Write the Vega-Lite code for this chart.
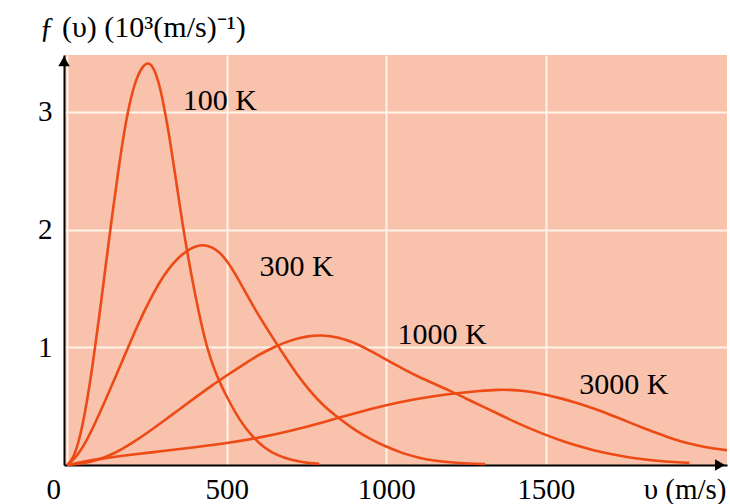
{
  "$schema": "https://vega.github.io/schema/vega-lite/v6.json",
  "width": 663,
  "height": 410,
  "autosize": {"type": "none"},
  "padding": {"left": 64, "top": 55, "right": 3, "bottom": 39},
  "background": "white",
  "config": {
    "view": {"fill": "#F8C2AC", "stroke": null},
    "font": "Liberation Serif"
  },
  "datasets": {
    "curves": [
      {"T": "100 K", "v": 0, "f": 0}, {"T": "100 K", "v": 20, "f": 0.058}, {"T": "100 K", "v": 40, "f": 0.23}, {"T": "100 K", "v": 60, "f": 0.5}, {"T": "100 K", "v": 80, "f": 0.85}, {"T": "100 K", "v": 100, "f": 1.25}, {"T": "100 K", "v": 120, "f": 1.68}, {"T": "100 K", "v": 140, "f": 2.1}, {"T": "100 K", "v": 160, "f": 2.5}, {"T": "100 K", "v": 180, "f": 2.86}, {"T": "100 K", "v": 200, "f": 3.13}, {"T": "100 K", "v": 220, "f": 3.31}, {"T": "100 K", "v": 240, "f": 3.4}, {"T": "100 K", "v": 255, "f": 3.42}, {"T": "100 K", "v": 270, "f": 3.38}, {"T": "100 K", "v": 285, "f": 3.27}, {"T": "100 K", "v": 300, "f": 3.1}, {"T": "100 K", "v": 320, "f": 2.8}, {"T": "100 K", "v": 340, "f": 2.44}, {"T": "100 K", "v": 360, "f": 2.07}, {"T": "100 K", "v": 380, "f": 1.75}, {"T": "100 K", "v": 400, "f": 1.46}, {"T": "100 K", "v": 420, "f": 1.2}, {"T": "100 K", "v": 440, "f": 0.98}, {"T": "100 K", "v": 460, "f": 0.82}, {"T": "100 K", "v": 480, "f": 0.69}, {"T": "100 K", "v": 500, "f": 0.58}, {"T": "100 K", "v": 540, "f": 0.38}, {"T": "100 K", "v": 580, "f": 0.24}, {"T": "100 K", "v": 620, "f": 0.14}, {"T": "100 K", "v": 660, "f": 0.08}, {"T": "100 K", "v": 700, "f": 0.045}, {"T": "100 K", "v": 740, "f": 0.022}, {"T": "100 K", "v": 790, "f": 0.01},
      {"T": "300 K", "v": 0, "f": 0}, {"T": "300 K", "v": 30, "f": 0.07}, {"T": "300 K", "v": 60, "f": 0.2}, {"T": "300 K", "v": 90, "f": 0.37}, {"T": "300 K", "v": 120, "f": 0.55}, {"T": "300 K", "v": 150, "f": 0.74}, {"T": "300 K", "v": 180, "f": 0.93}, {"T": "300 K", "v": 210, "f": 1.12}, {"T": "300 K", "v": 240, "f": 1.3}, {"T": "300 K", "v": 270, "f": 1.46}, {"T": "300 K", "v": 300, "f": 1.6}, {"T": "300 K", "v": 330, "f": 1.71}, {"T": "300 K", "v": 360, "f": 1.79}, {"T": "300 K", "v": 390, "f": 1.845}, {"T": "300 K", "v": 416, "f": 1.87}, {"T": "300 K", "v": 440, "f": 1.865}, {"T": "300 K", "v": 470, "f": 1.83}, {"T": "300 K", "v": 500, "f": 1.74}, {"T": "300 K", "v": 530, "f": 1.61}, {"T": "300 K", "v": 560, "f": 1.46}, {"T": "300 K", "v": 600, "f": 1.27}, {"T": "300 K", "v": 640, "f": 1.1}, {"T": "300 K", "v": 680, "f": 0.93}, {"T": "300 K", "v": 720, "f": 0.77}, {"T": "300 K", "v": 760, "f": 0.63}, {"T": "300 K", "v": 800, "f": 0.51}, {"T": "300 K", "v": 850, "f": 0.4}, {"T": "300 K", "v": 900, "f": 0.3}, {"T": "300 K", "v": 950, "f": 0.22}, {"T": "300 K", "v": 1000, "f": 0.155}, {"T": "300 K", "v": 1050, "f": 0.1}, {"T": "300 K", "v": 1100, "f": 0.062}, {"T": "300 K", "v": 1150, "f": 0.037}, {"T": "300 K", "v": 1200, "f": 0.022}, {"T": "300 K", "v": 1260, "f": 0.012}, {"T": "300 K", "v": 1310, "f": 0.008},
      {"T": "1000 K", "v": 0, "f": 0}, {"T": "1000 K", "v": 50, "f": 0.012}, {"T": "1000 K", "v": 100, "f": 0.045}, {"T": "1000 K", "v": 150, "f": 0.1}, {"T": "1000 K", "v": 200, "f": 0.18}, {"T": "1000 K", "v": 250, "f": 0.27}, {"T": "1000 K", "v": 300, "f": 0.37}, {"T": "1000 K", "v": 350, "f": 0.47}, {"T": "1000 K", "v": 400, "f": 0.57}, {"T": "1000 K", "v": 450, "f": 0.67}, {"T": "1000 K", "v": 500, "f": 0.76}, {"T": "1000 K", "v": 550, "f": 0.85}, {"T": "1000 K", "v": 600, "f": 0.935}, {"T": "1000 K", "v": 650, "f": 1.005}, {"T": "1000 K", "v": 700, "f": 1.06}, {"T": "1000 K", "v": 750, "f": 1.095}, {"T": "1000 K", "v": 800, "f": 1.105}, {"T": "1000 K", "v": 850, "f": 1.085}, {"T": "1000 K", "v": 900, "f": 1.04}, {"T": "1000 K", "v": 950, "f": 0.97}, {"T": "1000 K", "v": 1000, "f": 0.895}, {"T": "1000 K", "v": 1050, "f": 0.82}, {"T": "1000 K", "v": 1100, "f": 0.75}, {"T": "1000 K", "v": 1150, "f": 0.69}, {"T": "1000 K", "v": 1200, "f": 0.63}, {"T": "1000 K", "v": 1250, "f": 0.565}, {"T": "1000 K", "v": 1300, "f": 0.5}, {"T": "1000 K", "v": 1350, "f": 0.435}, {"T": "1000 K", "v": 1400, "f": 0.37}, {"T": "1000 K", "v": 1450, "f": 0.31}, {"T": "1000 K", "v": 1500, "f": 0.255}, {"T": "1000 K", "v": 1550, "f": 0.205}, {"T": "1000 K", "v": 1600, "f": 0.162}, {"T": "1000 K", "v": 1650, "f": 0.125}, {"T": "1000 K", "v": 1700, "f": 0.095}, {"T": "1000 K", "v": 1750, "f": 0.07}, {"T": "1000 K", "v": 1800, "f": 0.05}, {"T": "1000 K", "v": 1850, "f": 0.035}, {"T": "1000 K", "v": 1900, "f": 0.025}, {"T": "1000 K", "v": 1950, "f": 0.018},
      {"T": "3000 K", "v": 0, "f": 0}, {"T": "3000 K", "v": 50, "f": 0.028}, {"T": "3000 K", "v": 100, "f": 0.052}, {"T": "3000 K", "v": 200, "f": 0.088}, {"T": "3000 K", "v": 300, "f": 0.118}, {"T": "3000 K", "v": 400, "f": 0.15}, {"T": "3000 K", "v": 500, "f": 0.185}, {"T": "3000 K", "v": 600, "f": 0.23}, {"T": "3000 K", "v": 700, "f": 0.29}, {"T": "3000 K", "v": 800, "f": 0.36}, {"T": "3000 K", "v": 900, "f": 0.44}, {"T": "3000 K", "v": 1000, "f": 0.51}, {"T": "3000 K", "v": 1100, "f": 0.565}, {"T": "3000 K", "v": 1200, "f": 0.605}, {"T": "3000 K", "v": 1300, "f": 0.632}, {"T": "3000 K", "v": 1350, "f": 0.64}, {"T": "3000 K", "v": 1400, "f": 0.638}, {"T": "3000 K", "v": 1450, "f": 0.625}, {"T": "3000 K", "v": 1500, "f": 0.598}, {"T": "3000 K", "v": 1550, "f": 0.565}, {"T": "3000 K", "v": 1600, "f": 0.525}, {"T": "3000 K", "v": 1650, "f": 0.48}, {"T": "3000 K", "v": 1700, "f": 0.43}, {"T": "3000 K", "v": 1750, "f": 0.375}, {"T": "3000 K", "v": 1800, "f": 0.32}, {"T": "3000 K", "v": 1850, "f": 0.27}, {"T": "3000 K", "v": 1900, "f": 0.22}, {"T": "3000 K", "v": 1950, "f": 0.18}, {"T": "3000 K", "v": 2000, "f": 0.15}, {"T": "3000 K", "v": 2068, "f": 0.125}
    ],
    "labels": [
      {"label": "100 K", "v": 362, "f": 3.09},
      {"label": "300 K", "v": 603, "f": 1.685},
      {"label": "1000 K", "v": 1035, "f": 1.105},
      {"label": "3000 K", "v": 1605, "f": 0.68}
    ],
    "arrows": [
      {"shape": "triangle-up", "v": -10, "f": 3.43},
      {"shape": "triangle-right", "v": 2046, "f": 0}
    ]
  },
  "layer": [
    {
      "data": {"name": "curves"},
      "mark": {"type": "line", "color": "#EE4A16", "strokeWidth": 2.6, "interpolate": "basis"},
      "encoding": {
        "x": {
          "field": "v", "type": "quantitative",
          "scale": {"domain": [-10, 2068], "nice": false, "zero": false},
          "axis": {
            "values": [0, 500, 1000, 1500], "format": "d",
            "grid": true, "gridColor": "#FFF4E8", "gridWidth": 2,
            "ticks": false, "tickSize": 0,
            "domainColor": "black", "domainWidth": 2,
            "labelFont": "Liberation Serif", "labelFontSize": 29, "labelColor": "black",
            "labelBaseline": "alphabetic", "labelPadding": 33,
            "labelOffset": {"condition": {"test": "datum.value == 0", "value": -14}, "value": 0},
            "title": "υ (m/s)", "titleFont": "Liberation Serif", "titleFontSize": 29,
            "titleFontWeight": "normal", "titleColor": "black",
            "titleAngle": 0, "titleAlign": "right", "titleBaseline": "alphabetic",
            "titleX": 662, "titleY": 33
          }
        },
        "y": {
          "field": "f", "type": "quantitative",
          "scale": {"domain": [0, 3.483], "nice": false},
          "axis": {
            "values": [1, 2, 3], "format": "d",
            "grid": true, "gridColor": "#FFF4E8", "gridWidth": 2,
            "ticks": false, "tickSize": 0,
            "domainColor": "black", "domainWidth": 2,
            "labelFont": "Liberation Serif", "labelFontSize": 29, "labelColor": "black",
            "labelPadding": 12, "labelBaseline": "middle",
            "title": "ƒ (υ) (10³(m/s)⁻¹)", "titleFont": "Liberation Serif", "titleFontSize": 30,
            "titleFontWeight": "normal", "titleColor": "black",
            "titleAngle": 0, "titleAlign": "left", "titleBaseline": "alphabetic",
            "titleX": -25, "titleY": -19
          }
        },
        "detail": {"field": "T"}
      }
    },
    {
      "data": {"name": "labels"},
      "mark": {"type": "text", "align": "left", "baseline": "middle", "font": "Liberation Serif", "fontSize": 30, "color": "black"},
      "encoding": {
        "x": {"field": "v", "type": "quantitative"},
        "y": {"field": "f", "type": "quantitative"},
        "text": {"field": "label"}
      }
    },
    {
      "data": {"name": "arrows"},
      "mark": {"type": "point", "filled": true, "color": "black", "size": 130, "opacity": 1},
      "encoding": {
        "x": {"field": "v", "type": "quantitative"},
        "y": {"field": "f", "type": "quantitative"},
        "shape": {"field": "shape", "type": "nominal", "scale": null}
      }
    }
  ]
}
